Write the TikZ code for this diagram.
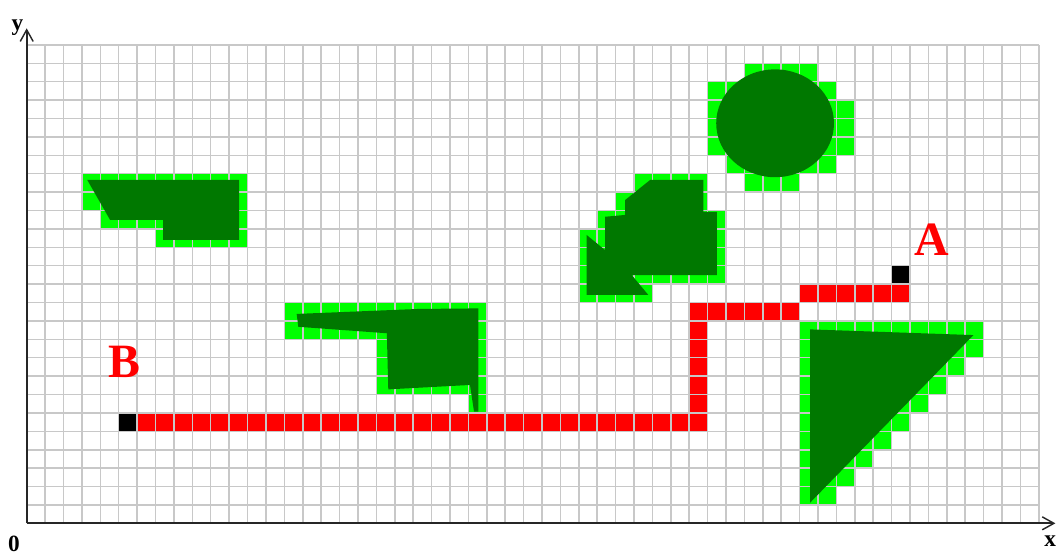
\documentclass[tikz,border=0pt]{standalone}
\usepackage{fontspec}
\setmainfont{Liberation Serif}
\usetikzlibrary{arrows.meta}
\definecolor{lg}{RGB}{0,255,0}
\definecolor{dg}{RGB}{0,120,0}
\definecolor{gridc}{RGB}{200,200,200}
\definecolor{pathred}{RGB}{255,0,0}
\tikzset{
  gridline/.style={draw=gridc, line width=1.2pt},
  axisline/.style={draw=black!85, line width=1.5pt, -{Straight Barb[length=9pt,width=10pt,line width=1.1pt]}},
  halo/.style={fill=lg},
  obst/.style={fill=dg},
  redcell/.style={fill=pathred},
  endcell/.style={fill=black},
  ptlabel/.style={text=pathred, font=\fontsize{37}{40}\selectfont\bfseries, inner sep=0pt},
  axlabel/.style={text=black, font=\fontsize{18}{20}\selectfont\bfseries, inner sep=0pt}
}
\begin{document}
\begin{tikzpicture}[x=0.5cm,y=0.5cm]
\useasboundingbox[fill=white] (-1.451,-1.777) rectangle (55.99,28.44);
% halo cells (light green)
\foreach \r/\a/\b in {18/3/11,17/3/11,16/4/11,15/7/11,
  11/14/24,10/14/24,9/19/24,8/19/24,7/19/24,6/24/24,
  18/33/36,17/32/36,16/31/37,15/30/37,14/30/37,13/30/37,12/30/33,
  24/39/42,23/37/43,22/37/44,21/37/44,20/37/44,19/38/43,18/39/41,
  10/42/51,9/42/51,8/42/50,7/42/49,6/42/48,5/42/47,4/42/46,3/42/45,2/42/44,1/42/43}
  \foreach \c in {\a,...,\b} \fill[halo] (\c,\r) rectangle ++(1,1);
% path cells (red)
\foreach \r/\a/\b in {5/6/36,11/37/41,12/42/47}
  \foreach \c in {\a,...,\b} \fill[redcell] (\c,\r) rectangle ++(1,1);
\foreach \r in {6,...,11} \fill[redcell] (36,\r) rectangle ++(1,1);
% end cells
\fill[endcell] (5,5) rectangle ++(1,1);
\fill[endcell] (47,13) rectangle ++(1,1);
% grid
\foreach \i in {1,...,55} \draw[gridline] (\i,0) -- (\i,26);
\foreach \j in {1,...,26} \draw[gridline] (0,\j) -- (55,\j);
% obstacles
\fill[obst] (3.29,18.66) -- (11.55,18.66) -- (11.55,15.40) -- (7.42,15.40) -- (7.42,16.49) -- (4.53,16.49) -- cycle;
\fill[obst] (14.67,11.38) -- (21.28,11.65) -- (24.54,11.68) -- (24.54,6.07) -- (24.31,6.07) -- (24.09,7.52) -- (19.65,7.28) -- (19.57,10.33) -- (14.76,10.68) -- cycle;
\fill[obst] (30.43,15.67) -- (31.43,14.85) -- (31.43,16.66) -- (32.52,16.76) -- (32.52,17.57) -- (33.88,18.66) -- (36.77,18.66) -- (36.77,16.93) -- (37.5,16.93) -- (37.5,13.49) -- (32.88,13.49) -- (33.78,12.41) -- (30.43,12.41) -- cycle;
\fill[obst] (40.67,21.74) ellipse [x radius=3.2, y radius=2.93];
\fill[obst] (42.57,10.54) -- (51.45,10.23) -- (42.57,1.12) -- cycle;
% axes
\coordinate (O) at (0,0);
\coordinate (ytip) at (0,26.9);
\coordinate (xtip) at (55.9,0);
\draw[axisline] (O) -- (ytip);
\draw[axisline] (O) -- (xtip);
% labels
\node[ptlabel] (A) at (49.17,15.40) {A};
\node[ptlabel] (B) at (5.29,8.78) {B};
\node[axlabel] (ylab) at (-0.5,26.95) {y};
\node[axlabel] (xlab) at (55.62,-0.99) {x};
\node[axlabel] (zero) at (-0.69,-1.1) {0};
\end{tikzpicture}
\end{document}
